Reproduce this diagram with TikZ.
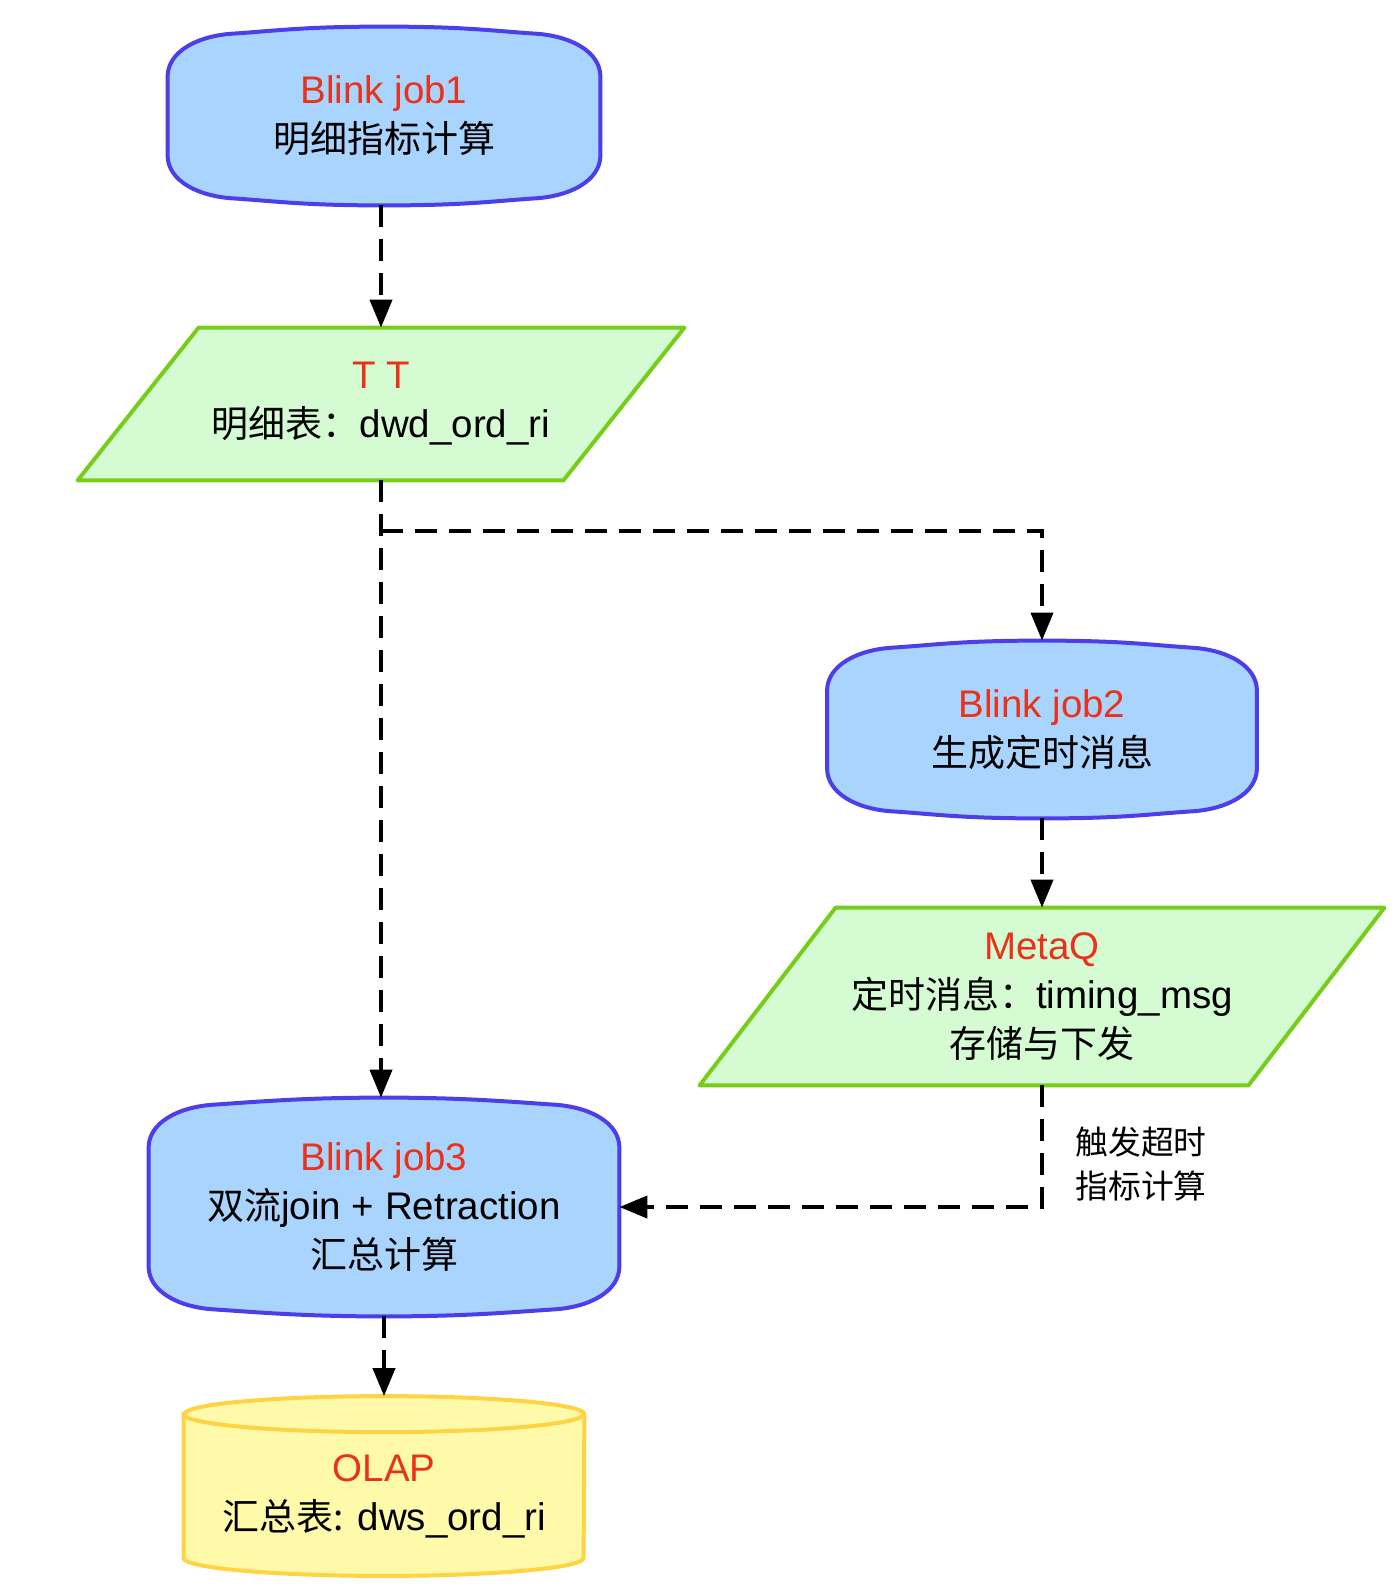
\documentclass[tikz,border=0pt]{standalone}
\usepackage{fontspec}
\setmainfont{Liberation Sans}[Scale=1.04]
\newfontfamily\cjk{Noto Sans CJK SC}
\usetikzlibrary{arrows.meta,calc,backgrounds}

\definecolor{jobfill}{RGB}{168,212,253}
\definecolor{jobborder}{RGB}{76,62,232}
\definecolor{datafill}{RGB}{213,251,210}
\definecolor{databorder}{RGB}{118,206,26}
\definecolor{olapfill}{RGB}{255,250,170}
\definecolor{olapborder}{RGB}{255,212,66}
\definecolor{jred}{RGB}{234,50,26}

\begin{document}
\begin{tikzpicture}[x=0.5pt,y=0.5pt,yscale=-1,xscale=1,
  box/.style={inner sep=0pt, align=center, font=\fontsize{18.5pt}{24.5pt}\selectfont},
  jobline/.style={draw=jobborder, fill=jobfill, line width=2pt, line join=round},
  dataline/.style={draw=databorder, fill=datafill, line width=2pt, line join=round},
  olapline/.style={draw=olapborder, fill=olapfill, line width=2pt},
  flow/.style={line width=2pt, dash pattern=on 11pt off 6pt, -{Triangle[length=14pt,width=11pt]}}]
\useasboundingbox (0,0) rectangle (1400,1587);
% Text Node
\node (job1) at (384,116) [box, minimum width=216pt, minimum height=89pt] {{\color{jred}Blink job1}\\{\cjk 明细指标计算}};
% Text Node
\node (TT) at (381,404) [box, minimum width=303pt, minimum height=76pt] {{\color{jred}T T}\\{\cjk 明细表：}dwd\_ord\_ri};
% Text Node
\node (job2) at (1042,729.5) [box, minimum width=214.5pt, minimum height=88.5pt] {{\color{jred}Blink job2}\\{\cjk 生成定时消息}};
% Text Node
\node (MetaQ) at (1042,996.5) [box, minimum width=342pt, minimum height=88.5pt] {{\color{jred}MetaQ}\\{\cjk 定时消息：}timing\_msg\\{\cjk 存储与下发}};
% Text Node
\node (job3) at (384,1207) [box, minimum width=235pt, minimum height=109pt] {{\color{jred}Blink job3}\\{\cjk 双流}join + Retraction\\{\cjk 汇总计算}};
% Text Node
\node (olap) at (384,1496) [box, minimum width=200pt, minimum height=79.5pt] {{\color{jred}OLAP}\\{\cjk 汇总表:} dws\_ord\_ri};
% Text Node
\node (trig) at (1075,1164) [anchor=west, inner sep=0pt, align=left, font=\fontsize{16.4pt}{22pt}\selectfont] {{\cjk 触发超时}\\{\cjk 指标计算}};

\begin{scope}[on background layer]
%Shape: Terminator
\foreach \n in {job1,job2,job3}
  \path[jobline] ($(\n.north west)+(0,50)$) .. controls +(0,-25) and +(-36,2) .. ($(\n.north west)+(66,7)$)
    .. controls +(45,-3) and +(-80,0) .. (\n.north) .. controls +(80,0) and +(-45,-3) .. ($(\n.north east)+(-66,7)$)
    .. controls +(36,2) and +(0,-25) .. ($(\n.north east)+(0,50)$) -- ($(\n.south east)+(0,-50)$)
    .. controls +(0,25) and +(36,-2) .. ($(\n.south east)+(-66,-7)$)
    .. controls +(-45,3) and +(80,0) .. (\n.south) .. controls +(-80,0) and +(45,3) .. ($(\n.south west)+(66,-7)$)
    .. controls +(-36,-2) and +(0,25) .. ($(\n.south west)+(0,-50)$) -- cycle;
%Shape: Parallelogram
\path[dataline] ($(TT.north west)+(121,0)$) -- (TT.north east) -- ($(TT.south east)+(-121,0)$) -- (TT.south west) -- cycle;
%Shape: Parallelogram
\path[dataline] ($(MetaQ.north west)+(136,0)$) -- (MetaQ.north east) -- ($(MetaQ.south east)+(-136,0)$) -- (MetaQ.south west) -- cycle;
%Shape: Can
\path[olapline] ($(olap.north west)+(0,-2)$) -- ($(olap.south west)+(0,-18)$) arc[start angle=180, end angle=0, x radius=200, y radius=18] -- ($(olap.north east)+(0,-2)$) arc[start angle=0, end angle=-180, x radius=200, y radius=18] -- cycle;
\draw[olapline, fill=none] ($(olap.north west)+(0,-2)$) arc[start angle=180, end angle=0, x radius=200, y radius=18];
\end{scope}

%Straight Lines
\draw[flow] (job1.south -| TT.north) -- (TT.north);
\draw[flow] (TT.south) -- (TT.south |- job3.north);
\coordinate (split) at ($(TT.south)+(0,51)$);
\draw[flow] (split) -| (job2.north);
\draw[flow] (job2.south) -- (MetaQ.north);
\draw[flow] (MetaQ.south) |- (job3.east);
\draw[flow] (job3.south) -- ($(olap.north)+(0,-20)$);
\end{tikzpicture}
\end{document}
